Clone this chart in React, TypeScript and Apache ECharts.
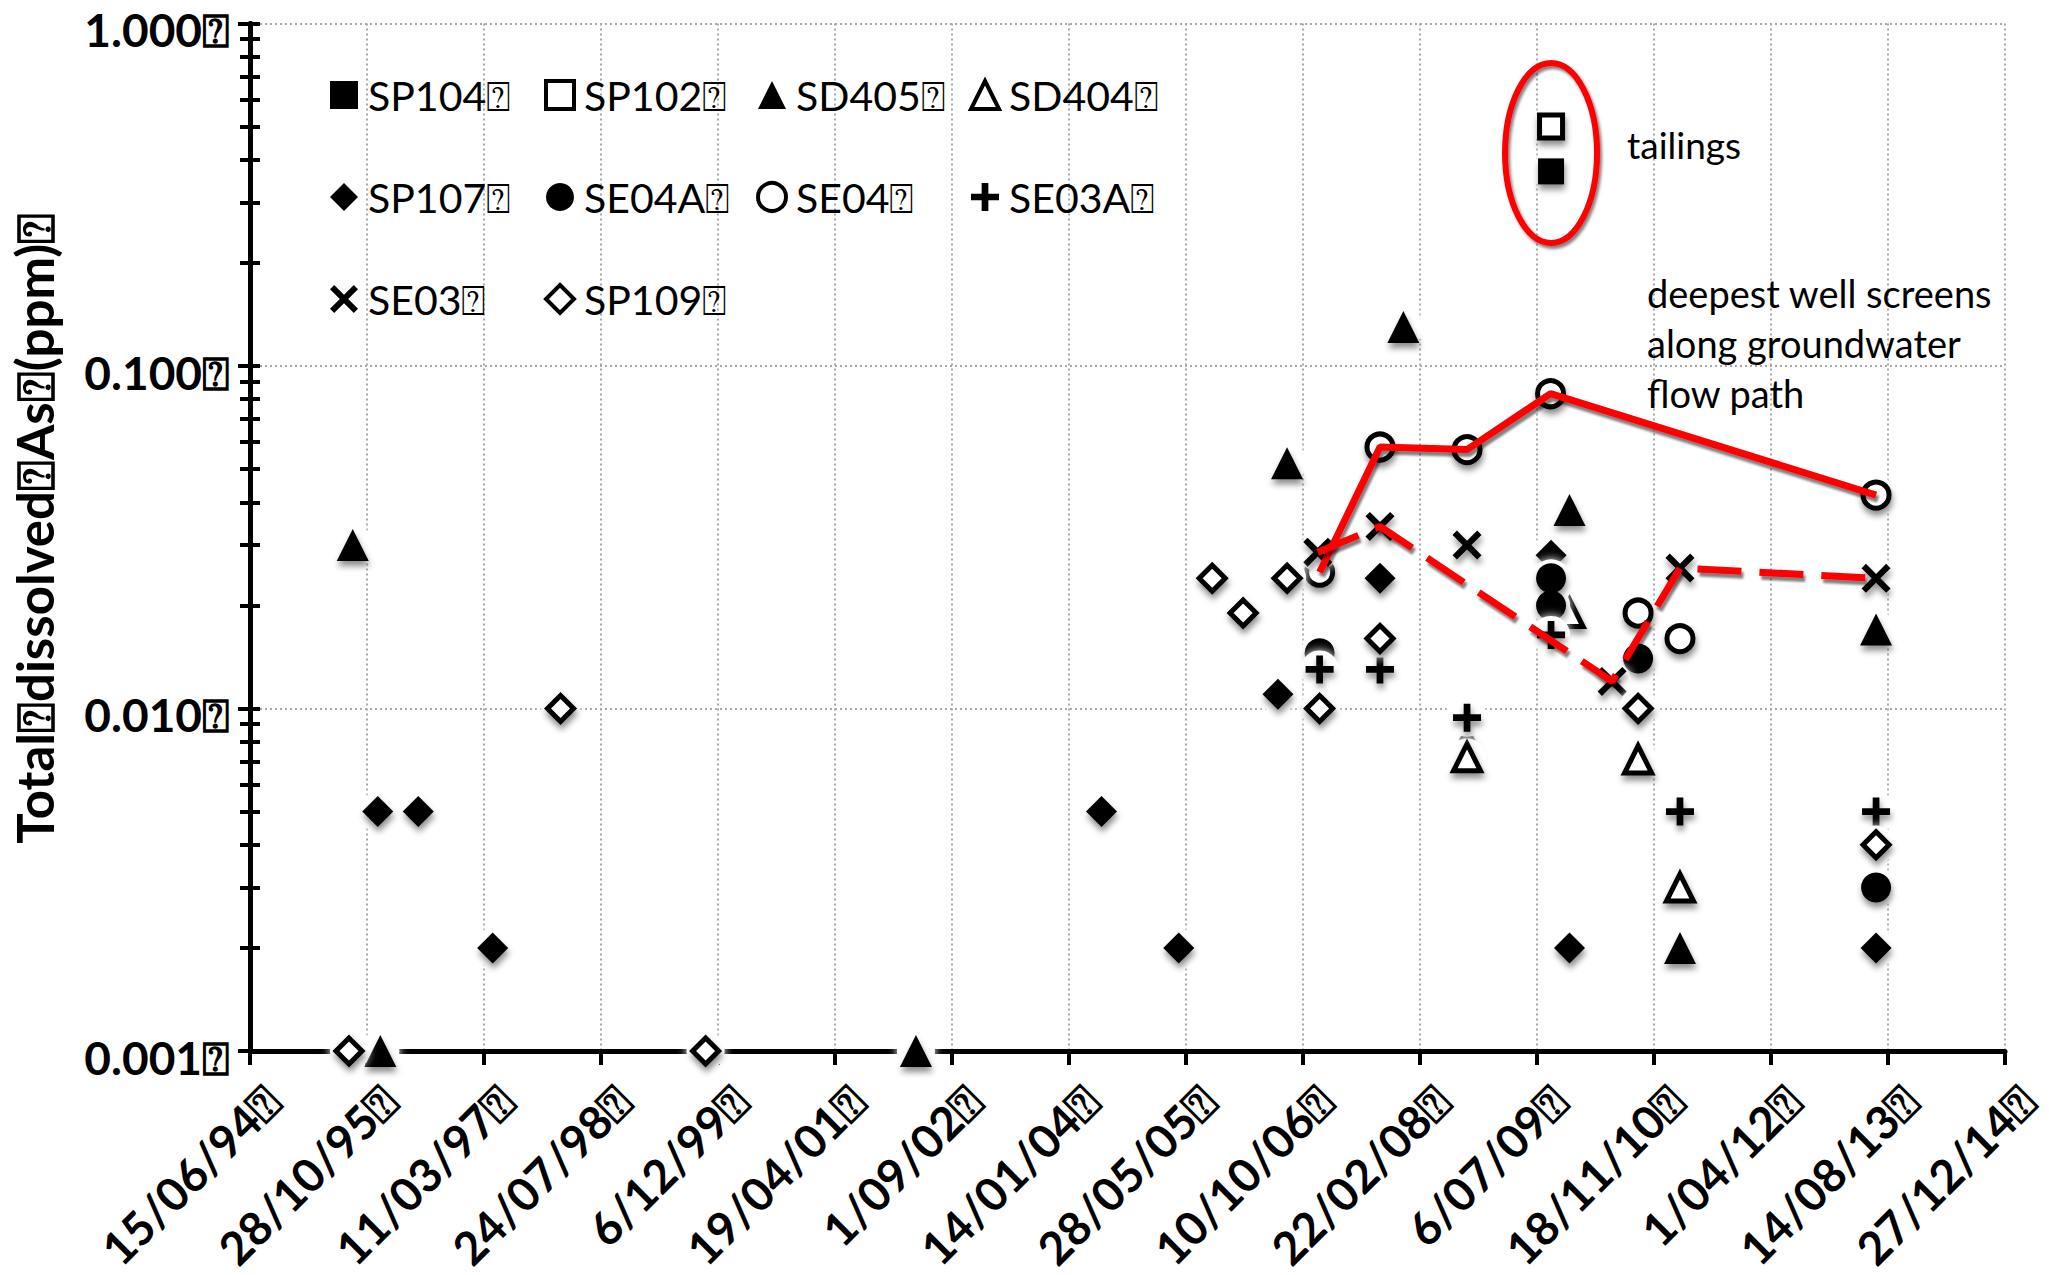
import React, { useEffect, useRef } from 'react';
import * as echarts from 'echarts';

const TOFU = '\u2370';

// x axis is in spreadsheet day serials (15/06/94 = 34500)
const X_MIN = 34500;
const X_MAX = 42000;
const X_STEP = 500;
const Y_MIN = 0.001;
const Y_MAX = 1;

const yAxisTitle = ['Total', 'dissolved', 'As', '(ppm)'];

const legendColumns = [
  ['SP104', 'SP107', 'SE03'],
  ['SP102', 'SE04A', 'SP109'],
  ['SD405', 'SE04'],
  ['SD404', 'SE03A'],
];

const seriesOrder = ['SP104', 'SP102', 'SD405', 'SD404', 'SP107', 'SE04A', 'SE04', 'SE03A', 'SE03', 'SP109'];

const sp104Dates = ['2009-09-04'];
const sp104Values = [0.37];
const sp102Dates = ['2009-09-04'];
const sp102Values = [0.5];
const sd405Dates = ['1995-08-28', '1995-12-24', '2002-03-31', '2006-08-03', '2007-12-13', '2008-09-10', '2009-11-22', '2011-03-09', '2013-06-24'];
const sd405Values = [0.03, 0.001, 0.001, 0.052, 0.13, 0.0081, 0.038, 0.002, 0.017];
const sd404Dates = ['2008-09-10', '2009-11-22', '2010-09-11', '2011-03-09'];
const sd404Values = [0.0072, 0.019, 0.0071, 0.003];
const sp107Dates = ['1995-12-13', '1996-06-03', '1997-04-17', '2004-06-01', '2005-04-27', '2006-06-25', '2007-09-04', '2009-09-04', '2009-11-22', '2013-06-24'];
const sp107Values = [0.005, 0.005, 0.002, 0.005, 0.002, 0.011, 0.024, 0.028, 0.002, 0.002];
const se04aDates = ['2006-12-20', '2009-09-04', '2009-09-04', '2010-09-11', '2013-06-24'];
const se04aValues = [0.0145, 0.024, 0.02, 0.014, 0.003];
const se04Dates = ['2006-12-20', '2007-09-04', '2008-09-10', '2009-09-02', '2010-09-11', '2011-03-09', '2013-06-24'];
const se04Values = [0.025, 0.058, 0.057, 0.083, 0.019, 0.016, 0.042];
const se03aDates = ['2006-12-20', '2007-09-04', '2008-09-10', '2009-09-04', '2011-03-09', '2013-06-24'];
const se03aValues = [0.013, 0.013, 0.0094, 0.0164, 0.005, 0.005];
const se03Dates = ['2006-12-12', '2007-09-04', '2008-09-10', '2010-05-23', '2011-03-09', '2013-06-24'];
const se03Values = [0.0286, 0.034, 0.03, 0.012, 0.0257, 0.024];
const sp109Dates = ['1995-08-12', '1998-02-01', '1999-10-14', '2005-09-17', '2006-01-27', '2006-08-03', '2006-12-20', '2007-09-04', '2010-09-11', '2013-06-24'];
const sp109Values = [0.001, 0.01, 0.001, 0.024, 0.019, 0.024, 0.01, 0.016, 0.01, 0.004];

// red "deepest well screens" paths
const se04PathDates = ['2006-12-20', '2007-09-04', '2008-09-10', '2009-09-02', '2013-06-24'];
const se04PathValues = [0.025, 0.058, 0.057, 0.083, 0.042];
const se03PathDates = ['2006-12-12', '2007-09-04', '2010-05-23', '2011-03-09', '2013-06-24'];
const se03PathValues = [0.0286, 0.034, 0.012, 0.0257, 0.024];

const tailingsLabel = 'tailings';
const pathLabel = ['deepest well screens', 'along groundwater', 'flow path'];

const seriesData: Record<string, [string[], number[]]> = {
  SP104: [sp104Dates, sp104Values],
  SP102: [sp102Dates, sp102Values],
  SD405: [sd405Dates, sd405Values],
  SD404: [sd404Dates, sd404Values],
  SP107: [sp107Dates, sp107Values],
  SE04A: [se04aDates, se04aValues],
  SE04: [se04Dates, se04Values],
  SE03A: [se03aDates, se03aValues],
  SE03: [se03Dates, se03Values],
  SP109: [sp109Dates, sp109Values],
};

const PLUS = 'path://M3.8,0H6.2V3.8H10V6.2H6.2V10H3.8V6.2H0V3.8H3.8Z';
const CROSS = 'path://M0,1.5L1.5,0L5,3.5L8.5,0L10,1.5L6.5,5L10,8.5L8.5,10L5,6.5L1.5,10L0,8.5L3.5,5Z';

const markerStyle: Record<string, { symbol: string; size: number; hollow: boolean }> = {
  SP104: { symbol: 'rect', size: 26, hollow: false },
  SP102: { symbol: 'rect', size: 23, hollow: true },
  SD405: { symbol: 'triangle', size: 32, hollow: false },
  SD404: { symbol: 'triangle', size: 27, hollow: true },
  SP107: { symbol: 'diamond', size: 31, hollow: false },
  SE04A: { symbol: 'circle', size: 30, hollow: false },
  SE04: { symbol: 'circle', size: 26, hollow: true },
  SE03A: { symbol: PLUS, size: 28, hollow: false },
  SE03: { symbol: CROSS, size: 29, hollow: false },
  SP109: { symbol: 'diamond', size: 26, hollow: true },
};

function toSerial(s: string): number {
  const [y, m, d] = s.split('-').map(Number);
  return Date.UTC(y, m - 1, d) / 86400000 + 25569;
}

function serialLabel(v: number): string {
  const dt = new Date((v - 25569) * 86400000);
  const dd = dt.getUTCDate();
  const mm = String(dt.getUTCMonth() + 1).padStart(2, '0');
  const yy = String(dt.getUTCFullYear() % 100).padStart(2, '0');
  return `${dd}/${mm}/${yy}${TOFU}`;
}

function pairs(dates: string[], values: number[]) {
  return dates.map((d, i) => [toSerial(d), values[i]]);
}

const FONT = 'Lato';
const GRID = { left: 250, top: 23.5, width: 1755, height: 1027.5, outerBoundsMode: 'none', containLabel: false };

function buildOption(): any {
  const series: any[] = [];
  seriesOrder.forEach((name) => {
    const [dates, values] = seriesData[name];
    const data = pairs(dates, values);
    const st = markerStyle[name];
    series.push({
      name: name + '-halo',
      type: 'scatter',
      data,
      symbol: 'circle',
      symbolSize: 38,
      clip: false,
      silent: true,
      itemStyle: { color: '#ffffff', opacity: 1, shadowBlur: 10, shadowColor: '#ffffff' },
      z: 2,
    });
    series.push({
      name,
      type: 'scatter',
      data,
      symbol: st.symbol,
      symbolSize: st.size,
      clip: false,
      silent: true,
      itemStyle: {
        color: st.hollow ? '#ffffff' : '#000000',
        opacity: 1,
        borderColor: '#000000',
        borderWidth: st.hollow ? 5 : 0,
        shadowBlur: 6,
        shadowOffsetX: 1,
        shadowOffsetY: 5,
        shadowColor: 'rgba(0,0,0,0.45)',
      },
      z: 2,
    });
  });
  const redLine = (name: string, dates: string[], values: number[], dashed: boolean) => ({
    name,
    type: 'line',
    data: pairs(dates, values),
    showSymbol: false,
    symbol: 'none',
    silent: true,
    clip: false,
    lineStyle: {
      color: '#ff0000',
      width: 7,
      opacity: 1,
      type: dashed ? [44, 18] : 'solid',
      shadowBlur: 2,
      shadowOffsetX: 2,
      shadowOffsetY: 4,
      shadowColor: 'rgba(0,0,0,0.5)',
    },
    z: 5,
  });
  series.push(redLine('SE04 path', se04PathDates, se04PathValues, false));
  series.push(redLine('SE03 path', se03PathDates, se03PathValues, true));

  const colLefts = [330, 544, 756, 969];
  const legends = legendColumns.map((names, ci) => ({
    orient: 'vertical',
    left: colLefts[ci],
    top: 71,
    padding: 0,
    itemGap: 54,
    itemWidth: 28,
    itemHeight: 28,
    selectedMode: false,
    textStyle: { fontFamily: FONT, fontSize: 41, color: '#000', lineHeight: 48, padding: [0, 0, 0, 5] },
    data: names.map((n) => {
      const st = markerStyle[n];
      return {
        name: n,
        icon: st.symbol,
        itemStyle: {
          color: st.hollow ? '#ffffff' : '#000000',
          opacity: 1,
          borderColor: '#000000',
          borderWidth: st.hollow ? 4 : 0,
          shadowBlur: 0,
          shadowOffsetX: 0,
          shadowOffsetY: 0,
          shadowColor: 'transparent',
        },
      };
    }),
    formatter: (n: string) => n + TOFU,
  }));

  const splitLine = { show: true, lineStyle: { color: '#a8a8a8', width: 2, type: [2, 3] } };
  const tickLine = { color: '#000', width: 4 };

  const yBase = {
    type: 'log',
    logBase: 10,
    min: Y_MIN,
    max: Y_MAX,
    position: 'left',
    offset: 0,
  };

  return {
    animation: false,
    backgroundColor: '#ffffff',
    grid: GRID,
    legend: legends,
    xAxis: {
      type: 'value',
      min: X_MIN,
      max: X_MAX,
      interval: X_STEP,
      axisLine: { show: true, onZero: false, lineStyle: { color: '#000', width: 5 } },
      axisTick: { show: true, length: 14, lineStyle: tickLine },
      splitLine,
      axisLabel: {
        rotate: 45,
        margin: 19,
        verticalAlign: 'top',
        lineHeight: 64,
        formatter: serialLabel,
        fontFamily: FONT,
        fontWeight: 'bold',
        fontSize: 46,
        color: '#000',
      },
    },
    yAxis: [
      {
        ...yBase,
        axisLine: { show: true, lineStyle: { color: '#000', width: 5 } },
        axisTick: { show: true, inside: false, length: 12, lineStyle: tickLine },
        minorTick: { show: true, splitNumber: 9, length: 10, lineStyle: tickLine },
        splitLine,
        minorSplitLine: { show: false },
        axisLabel: {
          margin: 20,
          verticalAlign: 'top',
          lineHeight: 12,
          formatter: (v: number) => v.toFixed(3) + TOFU,
          fontFamily: FONT,
          fontWeight: 'bold',
          fontSize: 46,
          color: '#000',
        },
        name: yAxisTitle.join(TOFU) + TOFU,
        nameLocation: 'middle',
        nameRotate: 90,
        nameGap: 190,
        nameTextStyle: { fontFamily: FONT, fontWeight: 'bold', fontSize: 51, color: '#000', padding: [0, 0, 0, 18] },
      },
      {
        ...yBase,
        axisLine: { show: true, lineStyle: { color: '#000', width: 5 } },
        axisTick: { show: true, inside: true, length: 10, lineStyle: tickLine },
        minorTick: { show: true, splitNumber: 9, length: 10, lineStyle: tickLine },
        splitLine: { show: false },
        axisLabel: { show: false },
      },
    ],
    series,
  };
}

export default function App() {
  const ref = useRef<HTMLDivElement>(null);
  useEffect(() => {
    document.body.style.margin = '0';
    const chart = echarts.init(ref.current as HTMLDivElement, undefined, { renderer: 'svg' });
    chart.setOption(buildOption());
    const pTop = chart.convertToPixel({ gridIndex: 0 }, [toSerial(sp102Dates[0]), sp102Values[0]]) as number[];
    const pBot = chart.convertToPixel({ gridIndex: 0 }, [toSerial(sp104Dates[0]), sp104Values[0]]) as number[];
    const cx = (pTop[0] + pBot[0]) / 2;
    const cy = (pTop[1] + pBot[1]) / 2 + 4;
    chart.setOption({
      graphic: [
        {
          type: 'ellipse',
          shape: { cx, cy, rx: 46, ry: 90 },
          style: {
            fill: 'none',
            stroke: '#ff0000',
            lineWidth: 6,
            shadowBlur: 3,
            shadowOffsetX: 2,
            shadowOffsetY: 3,
            shadowColor: 'rgba(0,0,0,0.5)',
          },
          z: 100,
          silent: true,
        },
        {
          type: 'text',
          x: 1627,
          y: 144,
          style: { text: tailingsLabel, fontFamily: FONT, fontSize: 37, fill: '#000', verticalAlign: 'middle', align: 'left' },
          z: 100,
          silent: true,
        },
        {
          type: 'text',
          x: 1647,
          y: 268,
          style: {
            text: pathLabel.join('\n'),
            fontFamily: FONT,
            fontSize: 38,
            lineHeight: 50,
            fill: '#000',
            verticalAlign: 'top',
            align: 'left',
          },
          z: 100,
          silent: true,
        },
      ],
    });
    return () => chart.dispose();
  }, []);
  return <div ref={ref} style={{ width: 2049, height: 1275 }} />;
}
